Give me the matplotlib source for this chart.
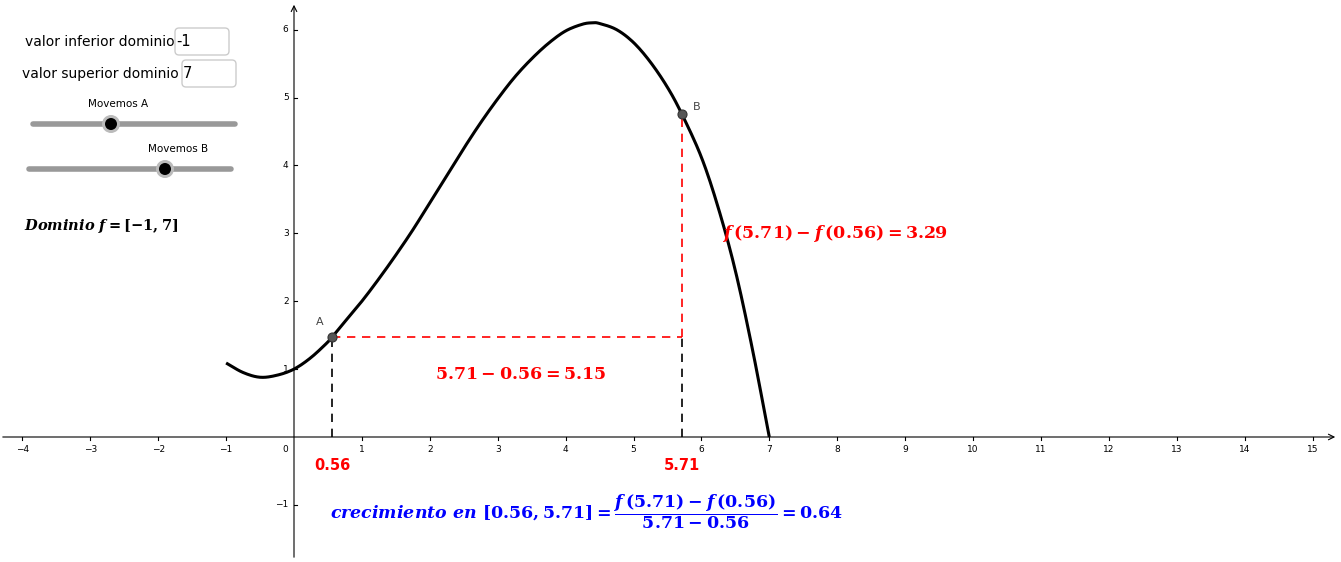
import matplotlib
matplotlib.use("Agg")
import numpy as np
import matplotlib.pyplot as plt
from matplotlib.patches import FancyBboxPatch, Circle

plt.rcParams["mathtext.fontset"] = "custom"
plt.rcParams["mathtext.rm"] = "DejaVu Serif:bold"
plt.rcParams["mathtext.bf"] = "DejaVu Serif:bold"
plt.rcParams["mathtext.it"] = "DejaVu Serif:italic:bold"

# curve samples
xs = [-1, -0.75, -0.5, -0.25, 0, 0.25, 0.5, 0.56, 0.75, 1, 1.25, 1.5, 1.75, 2,
      2.25, 2.5, 2.75, 3, 3.25, 3.5, 3.75, 4, 4.25, 4.4, 4.5, 4.75, 5, 5.25,
      5.5, 5.71, 6, 6.25, 6.5, 6.75, 7]
ys = [1.09, 0.95, 0.88, 0.91, 1.0, 1.17, 1.40, 1.47, 1.70, 2.0, 2.33, 2.68,
      3.05, 3.45, 3.85, 4.25, 4.63, 4.98, 5.3, 5.57, 5.8, 5.98, 6.08, 6.1, 6.09,
      6.0, 5.81, 5.52, 5.15, 4.76, 4.12, 3.37, 2.45, 1.3, 0.0]
xa, ya = 0.56, 1.47
xb, yb = 5.71, 4.76
xticks = [v for v in range(-4, 16) if v != 0]
yticks = [-1, 1, 2, 3, 4, 5, 6]

W, H = 1341, 562
X0, Y0, S = 294, 437, 67.9   # pixel of origin, px per unit

def smooth(px_, py_, n=12):
    # Catmull-Rom pass through the read points, only for a smooth stroke
    P = np.column_stack([px_, py_]).astype(float)
    P = np.vstack([2 * P[0] - P[1], P, 2 * P[-1] - P[-2]])
    out = []
    t = np.linspace(0, 1, n, endpoint=False)[:, None]
    for i in range(1, len(P) - 2):
        p0, p1, p2, p3 = P[i - 1], P[i], P[i + 1], P[i + 2]
        out.append(0.5 * ((2 * p1) + (-p0 + p2) * t + (2 * p0 - 5 * p1 + 4 * p2 - p3) * t ** 2
                          + (-p0 + 3 * p1 - 3 * p2 + p3) * t ** 3))
    out.append(P[-2][None, :])
    out = np.vstack(out)
    return out[:, 0], out[:, 1]

fig = plt.figure(figsize=(W / 100, H / 100), dpi=100)
ax = fig.add_axes([0, 0, 1, 1])
ax.set_xlim(-X0 / S, (W - X0) / S)
ax.set_ylim(-(H - Y0) / S, Y0 / S)
ax.axis("off")

def px(x, y):
    return (x - X0) / S, (Y0 - y) / S

# axes
ax.annotate("", xy=(px(1338, 0)[0], 0), xytext=(px(0, 0)[0], 0),
            arrowprops=dict(arrowstyle="->", lw=0.8, color="black"))
ax.annotate("", xy=(0, px(0, 2)[1]), xytext=(0, px(0, 560)[1]),
            arrowprops=dict(arrowstyle="->", lw=0.8, color="black"))
for t in xticks:
    ax.plot([t, t], [0, -0.05], color="black", lw=0.8)
    ax.text(t, -0.12, str(t).replace("-", "\u2212"), ha="center", va="top", fontsize=6.5)
ax.text(-0.08, -0.12, "0", ha="right", va="top", fontsize=6.5)
for t in yticks:
    ax.plot([0, 0.05], [t, t], color="black", lw=0.8)
    ax.text(-0.08, t, str(t).replace("-", "\u2212"), ha="right", va="center", fontsize=6.5)

# curve
cx, cy = smooth(xs, ys)
ax.plot(cx, cy, color="black", lw=2.2, solid_capstyle="butt")

# guides
ax.plot([xa, xa], [0, ya], color="black", lw=1.2, ls=(0, (5, 4)))
ax.plot([xb, xb], [0, ya], color="black", lw=1.2, ls=(0, (5, 4)))
ax.plot([xa, xb], [ya, ya], color="red", lw=1.2, ls=(0, (5, 4)))
ax.plot([xb, xb], [ya, yb], color="red", lw=1.2, ls=(0, (5, 4)))

for (x, y, lb, dx, dy) in [(xa, ya, "A", -0.18, 0.22), (xb, yb, "B", 0.22, 0.1)]:
    ax.plot(x, y, "o", ms=6.5, mfc="#555555", mec="#333333", mew=0.8, zorder=5)
    ax.text(x + dx, y + dy, lb, fontsize=8, color="#444444", ha="center", va="center")

ax.text(xa, -0.42, f"{xa:.2f}", color="red", fontsize=10.5, fontweight="bold", ha="center", va="center")
ax.text(xb, -0.42, f"{xb:.2f}", color="red", fontsize=10.5, fontweight="bold", ha="center", va="center")

ax.text(3.34, 0.93, r"$5.71-0.56=5.15$", color="red", fontsize=12.5,
        ha="center", va="center")
ax.text(6.3, 3.0, r"$f\,(5.71)-f\,(0.56)=3.29$", color="red", fontsize=12.5,
        ha="left", va="center")
ax.text(0.53, -1.1,
        r"$crecimiento\ en\ [0.56,5.71]=\dfrac{f\,(5.71)-f\,(0.56)}{5.71-0.56}=0.64$",
        color="blue", fontsize=12.5, ha="left", va="center")

# left panel widgets
def inbox(x, y, w, h, txt):
    x1, y1 = px(x, y + h)
    ax.add_patch(FancyBboxPatch((x1, y1), w / S, h / S, boxstyle="round,pad=0,rounding_size=0.06",
                                fc="white", ec="#cccccc", lw=1))
    ax.text(px(x + 1, 0)[0], px(0, y + h / 2)[1], txt, fontsize=10.5, va="center", ha="left")

ax.text(*px(25, 42), "valor inferior dominio", fontsize=10, va="center")
inbox(175, 28, 54, 27, "-1")
ax.text(*px(22, 74), "valor superior dominio", fontsize=10, va="center")
inbox(182, 60, 54, 27, "7")

for (x1, x2, y, kx, lab, lx) in [(33, 235, 124, 111, "Movemos A", 118),
                                  (29, 231, 169, 165, "Movemos B", 178)]:
    p1, p2 = px(x1, y), px(x2, y)
    ax.plot([p1[0], p2[0]], [p1[1], p2[1]], color="#999999", lw=4, solid_capstyle="round")
    kp = px(kx, y)
    ax.add_patch(Circle(kp, 9 / S, fc="#bbbbbb", ec="none", zorder=4))
    ax.add_patch(Circle(kp, 6 / S, fc="black", ec="none", zorder=5))
    ax.text(*px(lx, y - 20), lab, fontsize=7.5, ha="center", va="center")

ax.text(*px(24, 226), r"$Dominio\ f=[-1,7]$", fontsize=10.5, va="center", ha="left")

fig.savefig("out.png", dpi=100, facecolor="white")
